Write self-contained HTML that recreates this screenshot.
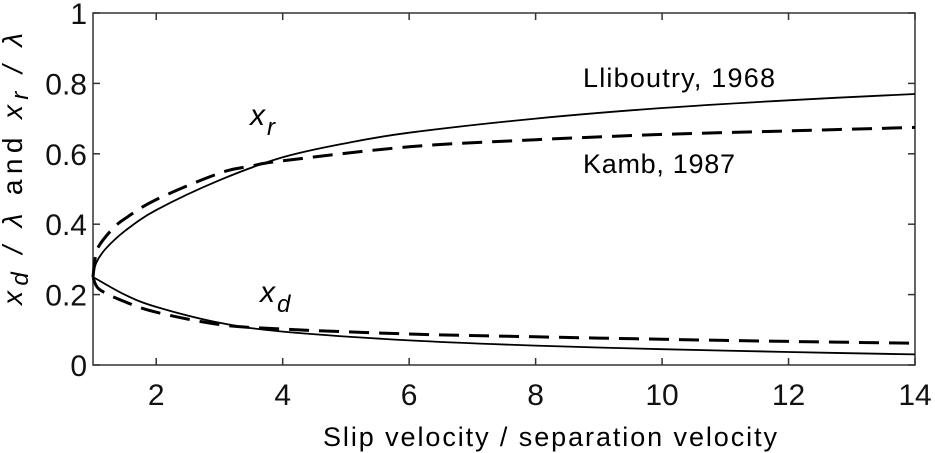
<!DOCTYPE html>
<html><head><meta charset="utf-8"><style>
body{margin:0;background:#fff}
svg{display:block;font-family:"Liberation Sans",sans-serif}
</style></head><body>
<svg id="c" width="935" height="453"></svg>
<script>
const xTicks=[2,4,6,8,10,12,14];
const yTicks=[0,0.2,0.4,0.6,0.8,1];
const yTickLabels=["0","0.2","0.4","0.6","0.8","1"];
const xrSolidX=[1,1.05,1.2,1.5,2,3,4,5,6,8,10,12,14];
const xrSolidY=[0.25,0.29,0.33,0.38,0.44,0.525,0.59,0.63,0.66,0.70,0.73,0.752,0.77];
const xrDashX=[1,1.04,1.1,1.3,1.5,2,3,3.5,4,6,8,10,12,14];
const xrDashY=[0.25,0.31,0.34,0.385,0.415,0.47,0.545,0.565,0.58,0.62,0.64,0.655,0.665,0.675];
const xdSolidX=[1,1.5,2,3,4,6,8,10,12,14];
const xdSolidY=[0.25,0.20,0.165,0.12,0.095,0.07,0.055,0.045,0.037,0.03];
const xdDashX=[1,1.1,1.5,2,3,4,6,8,10,12,14];
const xdDashY=[0.25,0.215,0.18,0.15,0.115,0.102,0.088,0.08,0.073,0.067,0.062];
const L=93,R=915,T=13,B=365;
const sx=v=>L+(v-1)/13*(R-L), sy=v=>B-v*(B-T);
const svg=document.getElementById('c'),NS='http://www.w3.org/2000/svg';
function mk(t,a,p){const e=document.createElementNS(NS,t);for(const k in a)e.setAttribute(k,a[k]);(p||svg).appendChild(e);return e;}
let f=mk('rect',{x:L,y:T,width:R-L,height:B-T,fill:'none',stroke:'#333','stroke-width':1.5});


xTicks.forEach(v=>{const x=sx(v);
 let t=mk('line',{x1:x,x2:x,y1:B,y2:B-7,stroke:'#333','stroke-width':1.5});
 mk('line',{x1:x,x2:x,y1:T,y2:T+7,stroke:'#333','stroke-width':1.5});
 let l=mk('text',{x:x,y:B+40,'text-anchor':'middle','font-size':30,fill:'#111'});l.textContent=v;
 });
yTicks.forEach((v,i)=>{const y=sy(v);
 let t=mk('line',{x1:L,x2:L+7,y1:y,y2:y,stroke:'#333','stroke-width':1.5});
 mk('line',{x1:R,x2:R-7,y1:y,y2:y,stroke:'#333','stroke-width':1.5});
 let l=mk('text',{x:L-6,y:y+11,'text-anchor':'end','font-size':30,fill:'#111'});l.textContent=yTickLabels[i];
 });
function line(xs,ys,dash,name){
 const P=xs.map((x,i)=>[sx(x),sy(ys[i])]);
 let d='M'+P[0][0].toFixed(1)+','+P[0][1].toFixed(1);
 for(let i=0;i<P.length-1;i++){const p0=P[Math.max(0,i-1)],p1=P[i],p2=P[i+1],p3=P[Math.min(P.length-1,i+2)];
  const c1=[p1[0]+(p2[0]-p0[0])/6,p1[1]+(p2[1]-p0[1])/6],c2=[p2[0]-(p3[0]-p1[0])/6,p2[1]-(p3[1]-p1[1])/6];
  d+='C'+c1.map(n=>n.toFixed(1))+' '+c2.map(n=>n.toFixed(1))+' '+p2.map(n=>n.toFixed(1));}
 const p=mk('path',{d:d,fill:'none',stroke:'#000','stroke-width':dash?3:1.8,'stroke-dasharray':dash?'20,10':'none'});
 }
line(xrSolidX,xrSolidY,false,'xr-lliboutry-line');
line(xrDashX,xrDashY,true,'xr-kamb-line');
line(xdSolidX,xdSolidY,false,'xd-lliboutry-line');
line(xdDashX,xdDashY,true,'xd-kamb-line');
</script>
<svg style="position:absolute;left:0;top:0" width="935" height="453">
<text x="583" y="87" font-size="27" textLength="192" font-family="Liberation Sans,sans-serif">Lliboutry, 1968</text>
<text x="583" y="173" font-size="27" textLength="152" font-family="Liberation Sans,sans-serif">Kamb, 1987</text>
<text x="250" y="125" font-size="30" font-style="italic" font-family="Liberation Sans,sans-serif">x<tspan dx="2" dy="10" font-size="24">r</tspan></text>
<text x="260" y="302" font-size="30" font-style="italic" font-family="Liberation Sans,sans-serif">x<tspan dx="2" dy="10" font-size="24">d</tspan></text>
<text x="323" y="446" font-size="27" textLength="454" font-family="Liberation Sans,sans-serif">Slip velocity / separation velocity</text>
<text transform="translate(22,305) rotate(-90)" font-size="28" textLength="272" font-family="Liberation Sans,sans-serif"><tspan font-style="italic">x<tspan dy="6" font-size="24">d</tspan><tspan dy="-6"> / λ</tspan></tspan>   and   <tspan font-style="italic">x<tspan dy="6" font-size="24">r</tspan><tspan dy="-6"> / λ</tspan></tspan></text>
</svg>
</body></html>
